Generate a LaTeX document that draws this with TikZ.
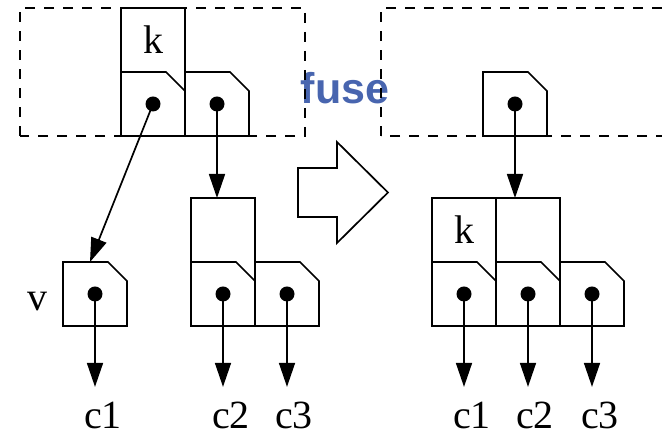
\documentclass[tikz,border=0pt]{standalone}
\usepackage{fontspec}
\setmainfont{Liberation Serif}
\newfontfamily\fusefont{Liberation Sans}
\usetikzlibrary{arrows.meta,positioning}
\definecolor{fuseblue}{RGB}{72,101,175}

\tikzset{
  cellbox/.style={minimum width=64pt, minimum height=64pt, inner sep=0pt, outer sep=0pt},
  lbl/.style={inner sep=0pt, font=\fontsize{40}{44}\selectfont},
  edge/.style={line width=1.7pt, line join=miter},
  ptr/.style={-{Triangle[length=24pt,width=16pt]}, line width=1.7pt},
  region/.style={dash pattern=on 10pt off 9pt, line width=1.7pt},
}

\begin{document}
\begin{tikzpicture}[x=1pt, y=1pt, node distance=0pt]
  \useasboundingbox (0,0) rectangle (662,438);
  % label of the step, under the dashed frames
  \node[font=\fusefont\bfseries\fontsize{43}{46}\selectfont, text=fuseblue, inner sep=0pt] (fuse) at (345,350) {fuse};
  % dashed frames (the right one runs off the page)
  \draw[region] (20,302) rectangle (305,430);
  \draw[region] (381,302) rectangle (690,430);
  % before: parent cells, v and the child node
  \node[cellbox, lbl] (lk) at (153,398) {k};
  \node[cellbox, below=of lk] (lp1) {};
  \node[cellbox, right=of lp1] (lp2) {};
  \node[cellbox] (vp) at (95,144) {};
  \node[lbl, left=15pt of vp, yshift=-8pt] (vl) {v};
  \node[cellbox] (mk) at (223,208) {};
  \node[cellbox, below=of mk] (mp1) {};
  \node[cellbox, right=of mp1] (mp2) {};
  % after: fused node
  \node[cellbox] (tp) at (515,334) {};
  \node[cellbox, lbl] (rk1) at (464,208) {k};
  \node[cellbox, right=of rk1] (rk2) {};
  \node[cellbox, below=of rk1] (rp1) {};
  \node[cellbox, right=of rp1] (rp2) {};
  \node[cellbox, right=of rp2] (rp3) {};
  % key boxes are open at the bottom
  \foreach \k in {lk,mk,rk1,rk2}
    \draw[edge] (\k.south west) |- (\k.north east) -- (\k.south east);
  % pointer cells with a cut corner and a dot
  \foreach \c in {lp1,lp2,vp,mp1,mp2,tp,rp1,rp2,rp3}{
    \draw[edge] (\c.south west) |- ([xshift=-19pt]\c.north east)
      -- ([yshift=-19pt]\c.north east) -- (\c.south east) -- cycle;
    \fill (\c.center) circle (7.5pt);
  }
  % big hollow arrow
  \draw[edge] (298,270) -- (337,270) -- (337,296) -- (388,245.5) -- (337,195)
    -- (337,221) -- (298,221) -- cycle;
  % children
  \node[lbl] (c1a) at (103,23) {c1};
  \node[lbl] (c2a) at (231,23) {c2};
  \node[lbl] (c3a) at (294,23) {c3};
  \node[lbl] (c1b) at (472,23) {c1};
  \node[lbl] (c2b) at (535,23) {c2};
  \node[lbl] (c3b) at (600,23) {c3};
  % pointers
  \draw[ptr] (lp1.center) -- ([xshift=-5pt]vp.north);
  \draw[ptr] (lp2.center) -- (lp2.center |- mk.north);
  \draw[ptr] (tp.center) -- (tp.center |- rk2.north);
  \foreach \c/\t in {vp/c1a, mp1/c2a, mp2/c3a, rp1/c1b, rp2/c2b, rp3/c3b}
    \draw[ptr, shorten >=14.5pt] (\c.center) -- (\c.center |- \t.north);
\end{tikzpicture}
\end{document}
